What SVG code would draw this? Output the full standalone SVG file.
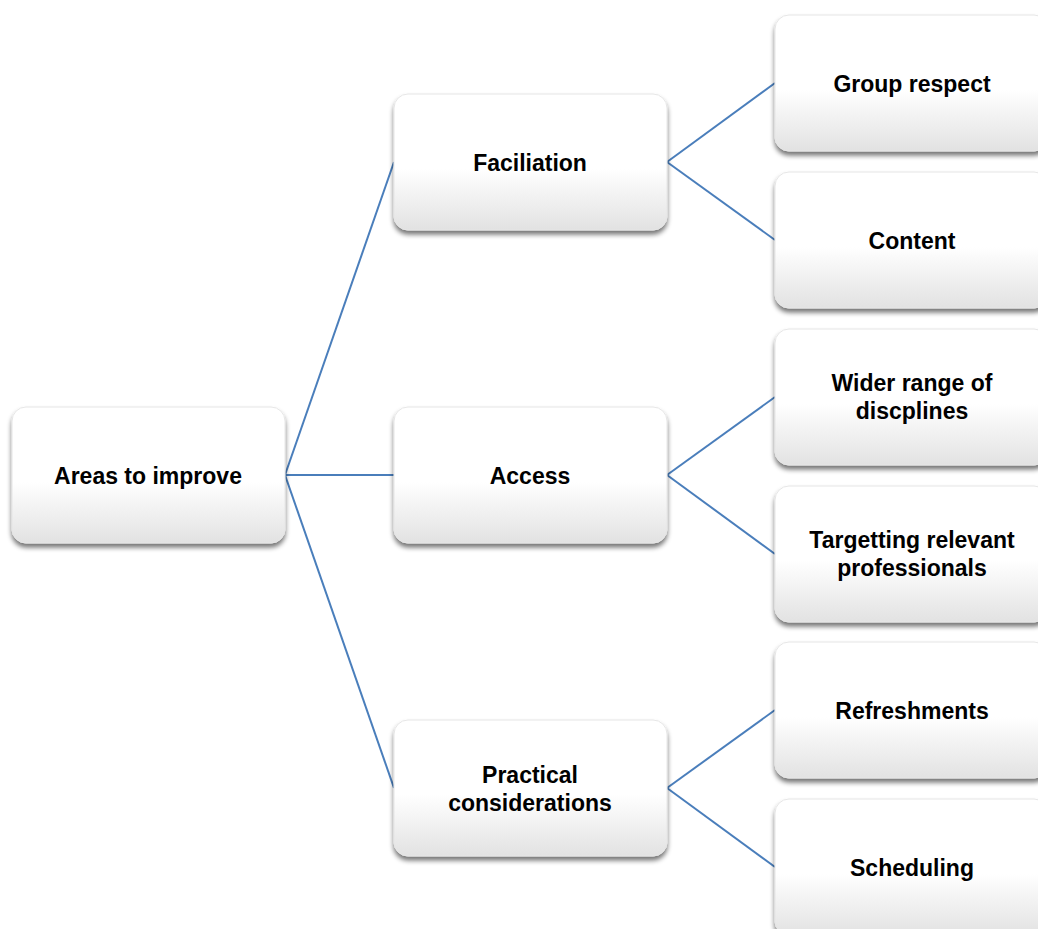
<svg xmlns="http://www.w3.org/2000/svg" width="1038" height="929" viewBox="0 0 1038 929">
<defs>
<linearGradient id="g" x1="0" y1="0" x2="0" y2="1">
<stop offset="0" stop-color="#ffffff"/>
<stop offset="0.55" stop-color="#ffffff"/>
<stop offset="1" stop-color="#e2e2e2"/>
</linearGradient>
<filter id="sh" x="-10%" y="-10%" width="120%" height="130%">
<feGaussianBlur in="SourceAlpha" stdDeviation="2.5"/>
<feOffset dx="0" dy="4" result="b"/>
<feComponentTransfer><feFuncA type="linear" slope="0.55"/></feComponentTransfer>
<feMerge><feMergeNode/><feMergeNode in="SourceGraphic"/></feMerge>
</filter>
</defs>
<style>
.box{fill:url(#g);stroke:#e6e6e6;stroke-width:1;filter:url(#sh)}
.t{font-family:"Liberation Sans",Arial,sans-serif;font-weight:bold;font-size:23px;fill:#000;text-anchor:middle}
.c{stroke:#4a7ebb;stroke-width:2;fill:none}
</style>
<rect width="1038" height="929" fill="#fff"/>
<g id="connectors">
<line class="c" x1="285" y1="475" x2="394" y2="162"/>
<line class="c" x1="285" y1="475" x2="394" y2="475"/>
<line class="c" x1="285" y1="475" x2="394" y2="788"/>
<line class="c" x1="667" y1="162" x2="775" y2="83"/>
<line class="c" x1="667" y1="162" x2="775" y2="240"/>
<line class="c" x1="667" y1="475" x2="775" y2="397"/>
<line class="c" x1="667" y1="475" x2="775" y2="554"/>
<line class="c" x1="667" y1="788" x2="775" y2="710"/>
<line class="c" x1="667" y1="788" x2="775" y2="867"/>
</g>
<g id="root"><rect class="box" x="12" y="407" width="273" height="136" rx="14"/><text class="t" x="148" y="484">Areas to improve</text></g>
<g id="faciliation"><rect class="box" x="394" y="94" width="273" height="136" rx="14"/><text class="t" x="530" y="171">Faciliation</text></g>
<g id="access"><rect class="box" x="394" y="407" width="273" height="136" rx="14"/><text class="t" x="530" y="484">Access</text></g>
<g id="practical"><rect class="box" x="394" y="720" width="273" height="136" rx="14"/><text class="t" x="530" y="783">Practical</text><text class="t" x="530" y="811">considerations</text></g>
<g id="group-respect"><rect class="box" x="775" y="15" width="273" height="136" rx="14"/><text class="t" x="912" y="92">Group respect</text></g>
<g id="content"><rect class="box" x="775" y="172" width="273" height="136" rx="14"/><text class="t" x="912" y="249">Content</text></g>
<g id="wider-range"><rect class="box" x="775" y="329" width="273" height="136" rx="14"/><text class="t" x="912" y="391">Wider range of</text><text class="t" x="912" y="419">discplines</text></g>
<g id="targetting"><rect class="box" x="775" y="486" width="273" height="136" rx="14"/><text class="t" x="912" y="548">Targetting relevant</text><text class="t" x="912" y="576">professionals</text></g>
<g id="refreshments"><rect class="box" x="775" y="642" width="273" height="136" rx="14"/><text class="t" x="912" y="719">Refreshments</text></g>
<g id="scheduling"><rect class="box" x="775" y="799" width="273" height="136" rx="14"/><text class="t" x="912" y="876">Scheduling</text></g>
</svg>
